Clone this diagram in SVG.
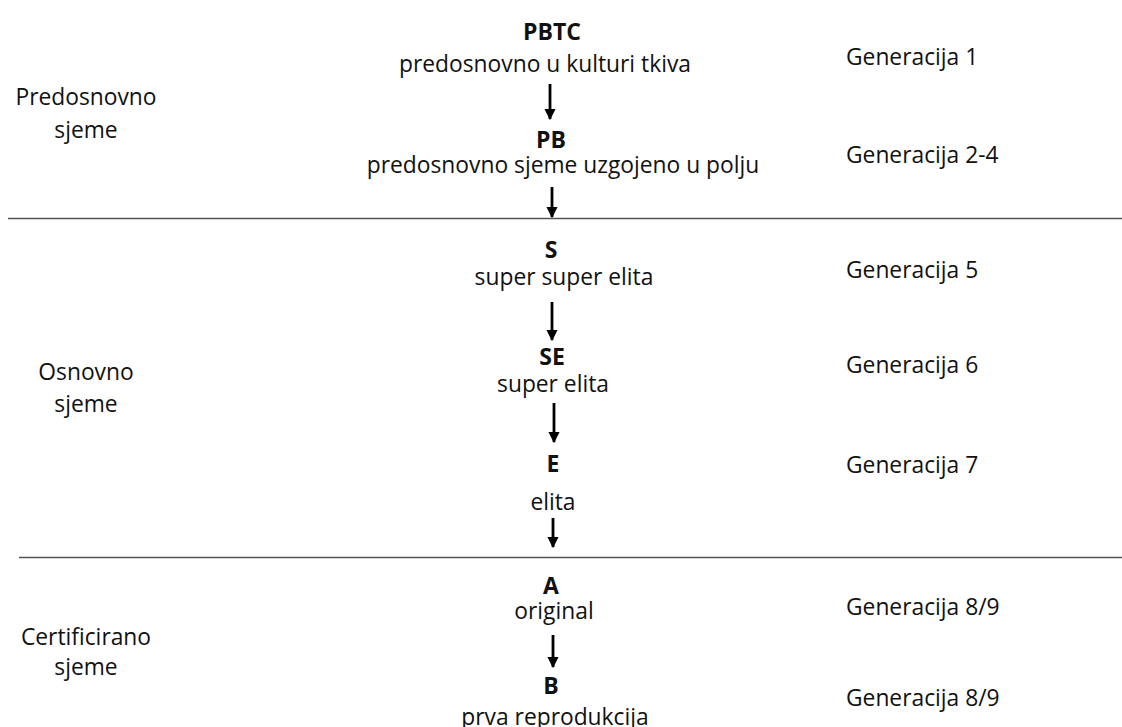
<svg xmlns="http://www.w3.org/2000/svg" width="1122" height="727" viewBox="0 0 1122 727">
<defs>
<style>
text{font-family:"Open Sans","Noto Sans","DejaVu Sans",sans-serif;font-size:22.8px;fill:#111;}
.c{text-anchor:middle;}
.b{font-weight:bold;font-size:23px;}
.sep{stroke:#555;stroke-width:1.5;}
.arr{stroke:#000;stroke-width:2.8;fill:none;marker-end:url(#ah);}
</style>
<marker id="ah" viewBox="0 0 10 10" refX="9" refY="5" markerWidth="4.2" markerHeight="4" orient="auto" markerUnits="strokeWidth">
<path d="M0,0 L10,5 L0,10 Z" fill="#000"/>
</marker>
</defs>
<rect width="1122" height="727" fill="#fff"/>
<g id="separators">
<line class="sep" x1="8" y1="218.5" x2="1122" y2="218.5"/>
<line class="sep" x1="19" y1="557.5" x2="1122" y2="557.5"/>
</g>
<g id="left-labels">
<g id="label-predosnovno"><text class="c" x="86" y="105">Predosnovno</text><text class="c" x="86" y="138">sjeme</text></g>
<g id="label-osnovno"><text class="c" x="86" y="380">Osnovno</text><text class="c" x="86" y="412">sjeme</text></g>
<g id="label-certificirano"><text class="c" x="86" y="645">Certificirano</text><text class="c" x="86" y="675">sjeme</text></g>
</g>
<g id="node-PBTC"><text class="c b" x="552" y="40">PBTC</text><text class="c" x="545" y="72">predosnovno u kulturi tkiva</text></g>
<g id="node-PB"><text class="c b" x="551" y="148">PB</text><text class="c" x="563" y="173">predosnovno sjeme uzgojeno u polju</text></g>
<g id="node-S"><text class="c b" x="551" y="258">S</text><text class="c" x="564" y="285">super super elita</text></g>
<g id="node-SE"><text class="c b" x="552" y="365">SE</text><text class="c" x="553" y="392">super elita</text></g>
<g id="node-E"><text class="c b" x="553" y="472">E</text><text class="c" x="553" y="510">elita</text></g>
<g id="node-A"><text class="c b" x="551" y="594">A</text><text class="c" x="554" y="619">original</text></g>
<g id="node-B"><text class="c b" x="551" y="694">B</text><text class="c" x="555" y="725">prva reprodukcija</text></g>
<g id="generations">
<text x="846" y="65">Generacija 1</text>
<text x="846" y="163">Generacija 2-4</text>
<text x="846" y="278">Generacija 5</text>
<text x="846" y="373">Generacija 6</text>
<text x="846" y="473">Generacija 7</text>
<text x="846" y="615">Generacija 8/9</text>
<text x="846" y="706">Generacija 8/9</text>
</g>
<g id="connectors">
<line class="arr" x1="550" y1="84" x2="550" y2="119"/>
<line class="arr" x1="552" y1="187" x2="552" y2="217"/>
<line class="arr" x1="552" y1="302" x2="552" y2="340"/>
<line class="arr" x1="554" y1="403" x2="554" y2="442"/>
<line class="arr" x1="553" y1="518" x2="553" y2="547"/>
<line class="arr" x1="553" y1="635" x2="553" y2="667"/>
</g>
</svg>
